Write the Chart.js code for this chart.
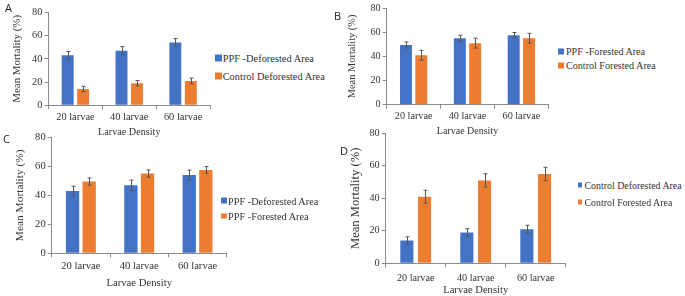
<!DOCTYPE html>
<html>
<head>
<meta charset="utf-8">
<script src="https://cdn.jsdelivr.net/npm/chart.js@4.4.1/dist/chart.umd.min.js"></script>
<style>
  body { margin: 0; background: #fff; }
  #wrap { position: relative; width: 685px; height: 296px; overflow: hidden; }
  canvas { position: absolute; }
  .tag { position: absolute; font-family: 'Open Sans', sans-serif; font-size: 11px; color: #222; line-height: 1; }
  .legend { position: absolute; font-family: 'Liberation Serif', serif; color: #333; white-space: nowrap; }
  .legend .row { position: absolute; display: flex; align-items: center; transform: translateY(-50%); }
  .legend .sw { display: inline-block; }
</style>
</head>
<body>
<div id="wrap"></div>
<script>
const categories = ['20 larvae', '40 larvae', '60 larvae'];

const ppfDeforested = [43, 47, 54];
const ppfDeforestedErr = [3.3, 3.5, 3.4];
const ctrlDeforested = [14, 19, 21];
const ctrlDeforestedErr = [2.3, 2.3, 2.4];
const ppfForested = [49.5, 55, 57.5];
const ppfForestedErr = [2.5, 2.5, 2.3];
const ctrlForested = [41, 51, 55];
const ctrlForestedErr = [4, 4.1, 4.1];

const yMin = 0, yMax = 80, yStep = 20;

const BLUE = '#4472C4';
const ORANGE = '#ED7D31';

// error bars drawn from each dataset's errors array
const errorBars = {
  id: 'errorBars',
  afterDatasetsDraw(chart) {
    const { ctx, scales: { y } } = chart;
    ctx.save();
    ctx.strokeStyle = '#555';
    ctx.lineWidth = 1;
    chart.data.datasets.forEach((ds, i) => {
      chart.getDatasetMeta(i).data.forEach((bar, j) => {
        const v = ds.data[j], e = ds.errors[j];
        const x = Math.round(bar.x) + 0.5;
        const t = y.getPixelForValue(v + e), b = y.getPixelForValue(v - e);
        ctx.beginPath();
        ctx.moveTo(x, t); ctx.lineTo(x, b);
        ctx.moveTo(x - 2, t); ctx.lineTo(x + 2, t);
        ctx.moveTo(x - 2, b); ctx.lineTo(x + 2, b);
        ctx.stroke();
      });
    });
    ctx.restore();
  }
};

const panels = [
  { tag: 'A', tagX: 5, tagY: 2,
    canvas: { left: 0, top: 0, w: 215, h: 140 }, yWidth: 48.5, top: 12.3, right: 5, bottom: 105.3,
    tickSize: 10.4, tickPad: 2, xTitleSize: 10.2, xTitlePad: 2, yTitleSize: 10.9, yTitlePad: 10.4, cat: 0.575, bar: 0.77,
    series: [['PPF -Deforested Area', ppfDeforested, ppfDeforestedErr, BLUE],
             ['Control Deforested Area', ctrlDeforested, ctrlDeforestedErr, ORANGE]],
    legend: { sq: 215, text: 222.7, rows: [58, 76], size: 10.4, box: 6.5 } },
  { tag: 'B', tagX: 334, tagY: 10,
    canvas: { left: 335, top: 0, w: 218, h: 140 }, yWidth: 51.7, top: 6.7, right: 4.7, bottom: 104.7,
    tickSize: 10.2, tickPad: 2, xTitleSize: 10, xTitlePad: 3, yTitleSize: 10.4, yTitlePad: 10.6, cat: 0.57, bar: 0.78,
    series: [['PPF -Forested Area', ppfForested, ppfForestedErr, BLUE],
             ['Control Forested Area', ctrlForested, ctrlForestedErr, ORANGE]],
    legend: { sq: 558, text: 566, rows: [51, 65], size: 10.1, box: 6 } },
  { tag: 'C', tagX: 3, tagY: 133,
    canvas: { left: 0, top: 122, w: 232, h: 174 }, yWidth: 51.7, top: 15.3, right: 5.3, bottom: 131.3,
    tickSize: 10.6, tickPad: 3, xTitleSize: 10.7, xTitlePad: 6.4, yTitleSize: 11.4, yTitlePad: 13.2, cat: 0.57, bar: 0.8,
    series: [['PPF -Deforested Area', ppfDeforested, ppfDeforestedErr, BLUE],
             ['PPF -Forested Area', ppfForested, ppfForestedErr, ORANGE]],
    legend: { sq: 221, text: 228, rows: [200.7, 216], size: 10.3, box: 5.5 } },
  { tag: 'D', tagX: 340, tagY: 145,
    canvas: { left: 335, top: 122, w: 236, h: 176 }, yWidth: 50.7, top: 11.3, right: 5.3, bottom: 141.3,
    tickSize: 10.2, tickPad: 4.5, xTitleSize: 10.6, xTitlePad: 1.6, yTitleSize: 12.6, yTitlePad: 13.4, cat: 0.59, bar: 0.74,
    series: [['Control Deforested Area', ctrlDeforested, ctrlDeforestedErr, BLUE],
             ['Control Forested Area', ctrlForested, ctrlForestedErr, ORANGE]],
    legend: { sq: 577.5, text: 584.5, rows: [185, 202], size: 9.9, box: 4.5 } }
];

const wrap = document.getElementById('wrap');
const serif = 'Liberation Serif';

panels.forEach(p => {
  const cv = document.createElement('canvas');
  cv.width = p.canvas.w; cv.height = p.canvas.h;
  cv.style.left = p.canvas.left + 'px'; cv.style.top = p.canvas.top + 'px';
  cv.style.width = p.canvas.w + 'px'; cv.style.height = p.canvas.h + 'px';
  wrap.appendChild(cv);

  const chart = new Chart(cv, {
    type: 'bar',
    data: {
      labels: categories,
      datasets: p.series.map(([label, data, errors, color]) => ({
        label, data, errors,
        backgroundColor: color,
        borderWidth: 0,
        categoryPercentage: p.cat,
        barPercentage: p.bar
      }))
    },
    options: {
      responsive: false,
      animation: false,
      layout: { padding: { top: p.top, right: p.right, left: 0, bottom: 0 } },
      plugins: { legend: { display: false }, tooltip: { enabled: false } },
      scales: {
        x: {
          afterFit: s => { s.height = p.canvas.h - p.bottom; },
          grid: { display: true, drawOnChartArea: false, drawTicks: true, tickLength: 4, color: '#8c8c8c', offset: true },
          border: { display: true, color: '#8c8c8c' },
          ticks: { padding: p.tickPad, color: '#333', font: { family: serif, size: p.tickSize } },
          title: { display: true, text: 'Larvae Density', color: '#333',
                   font: { family: serif, size: p.xTitleSize }, padding: { top: 0, bottom: p.xTitlePad } }
        },
        y: {
          min: yMin, max: yMax,
          afterFit: s => { s.width = p.yWidth; },
          grid: { display: true, drawOnChartArea: false, drawTicks: true, tickLength: 4, color: '#8c8c8c' },
          border: { display: true, color: '#8c8c8c' },
          ticks: { stepSize: yStep, padding: 2, color: '#333', font: { family: serif, size: p.tickSize } },
          title: { display: true, text: 'Mean Mortality (%)', color: '#333',
                   font: { family: serif, size: p.yTitleSize }, padding: { top: p.yTitlePad, bottom: 0 } }
        }
      }
    },
    plugins: [errorBars]
  });

  // panel letter
  const tag = document.createElement('div');
  tag.className = 'tag';
  tag.textContent = p.tag;
  tag.style.left = p.tagX + 'px'; tag.style.top = p.tagY + 'px';
  wrap.appendChild(tag);

  // legend built from the chart's datasets
  const lg = document.createElement('div');
  lg.className = 'legend';
  lg.style.left = '0px'; lg.style.top = '0px';
  chart.data.datasets.forEach((ds, i) => {
    const row = document.createElement('div');
    row.className = 'row';
    row.style.left = p.legend.sq + 'px';
    row.style.top = p.legend.rows[i] + 'px';
    row.style.fontSize = p.legend.size + 'px';
    const sw = document.createElement('span');
    sw.className = 'sw';
    sw.style.width = p.legend.box + 'px'; sw.style.height = p.legend.box + 'px';
    sw.style.background = ds.backgroundColor;
    sw.style.marginRight = (p.legend.text - p.legend.sq - p.legend.box) + 'px';
    const tx = document.createElement('span');
    tx.textContent = ds.label;
    row.appendChild(sw); row.appendChild(tx);
    lg.appendChild(row);
  });
  wrap.appendChild(lg);
});
</script>
</body>
</html>
